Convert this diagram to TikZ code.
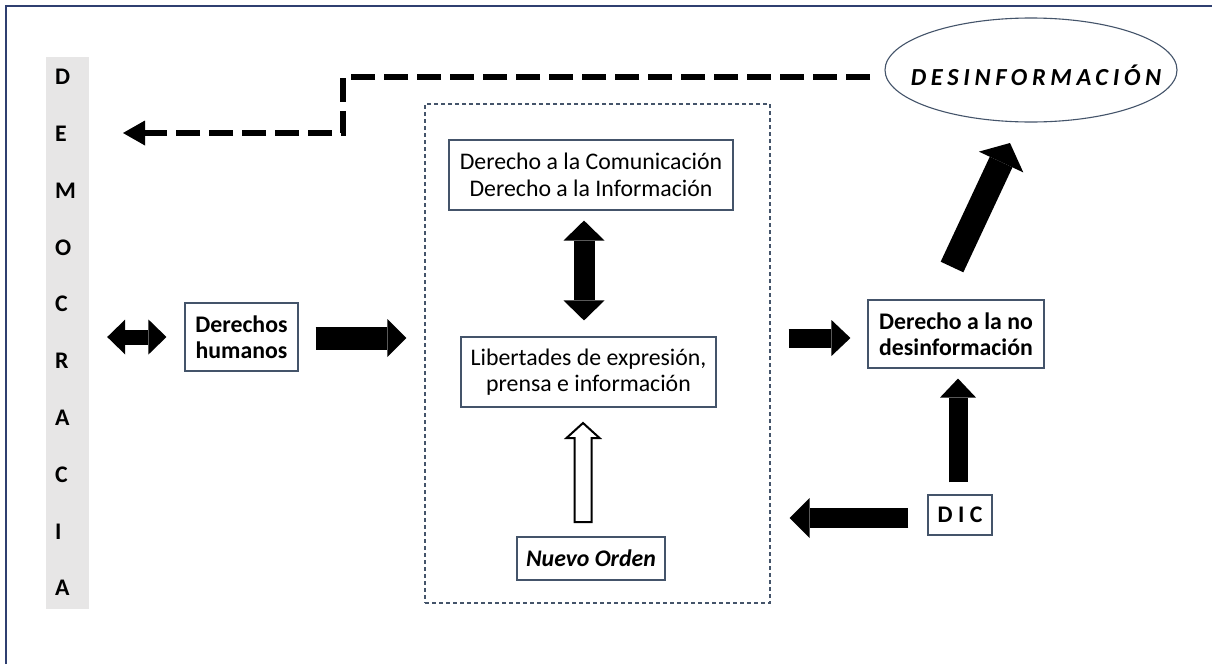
\documentclass[tikz,border=0pt]{standalone}
\usepackage{fontspec}
\setmainfont{Carlito}
\usetikzlibrary{arrows.meta,shapes.geometric,calc}
\definecolor{bord}{HTML}{44546A}
\definecolor{framec}{HTML}{2F3F70}
\definecolor{stripc}{HTML}{E7E6E6}
\newcommand\fsz{\fontsize{23.8}{26.5}\selectfont}
\tikzset{
  box/.style={draw=bord, line width=1.1pt, align=center, inner sep=0pt, font=\fsz},
  blkarrow/.style n args={3}{draw=black, line width=#1, -{Triangle[width=#2,length=#3,line width=0pt]}},
  dblarrow/.style n args={3}{draw=black, line width=#1, {Triangle[width=#2,length=#3,line width=0pt]}-{Triangle[width=#2,length=#3,line width=0pt]}},
}
\begin{document}
\begin{tikzpicture}[x=1pt,y=-1pt]
\useasboundingbox (0,0) rectangle (1212,664);
\fill[white] (0,0) rectangle (1212,664);
\draw[framec, line width=2pt] (6,664) -- (6,6) -- (1212,6);

% DEMOCRACIA strip
\node[fill=stripc, minimum width=43pt, minimum height=552pt, inner sep=0pt] (strip) at (67.5,333) {};
\foreach \l [count=\i from 0] in {D,E,M,O,C,R,A,C,I,A}
  \node[anchor=west, inner sep=0pt, font=\fsz\bfseries] (dl\i) at (55,{77+56.8*\i}) {\l};

% container
\node[draw=bord, line width=1.1pt, dash pattern=on 4pt off 3pt, minimum width=345pt, minimum height=499pt, inner sep=0pt] (cont) at (597.5,353.5) {};

% boxes
\node[box, minimum width=113pt, minimum height=68pt, font=\fsz\bfseries] (dh) at (241.5,337) {Derechos\\humanos};
\node[box, minimum width=284pt, minimum height=70pt] (dc) at (591,175) {Derecho a la Comunicación\\Derecho a la Información};
\node[box, minimum width=255pt, minimum height=70pt] (lib) at (588.5,372) {Libertades de expresión,\\prensa e información};
\node[box, minimum width=148pt, minimum height=43pt, font=\fsz\bfseries\itshape] (nuevo) at (591,558.5) {Nuevo Orden};
\node[box, minimum width=176pt, minimum height=68pt, font=\fsz\bfseries] (dnd) at (956,334) {Derecho a la no\\desinformación};
\node[box, minimum width=64pt, minimum height=40pt, font=\fsz\bfseries] (dic) at (960,515) {D I C};
\node[ellipse, draw=bord, line width=1.1pt, minimum width=292pt, minimum height=104pt, inner sep=0pt,
      label={[font=\fontsize{24.5}{27}\selectfont\bfseries\itshape, yshift=-5pt, xshift=5pt]center:\addfontfeature{LetterSpace=19}DESINFORMACIÓN}] (ell) at (1031,70) {};

% coordinates for arrows
\coordinate (vx) at (584,0);
\coordinate (ry) at (0,338);
\coordinate (ly) at (0,518);
\coordinate (ux) at (958,0);
\coordinate (dg1) at (952,267);
\coordinate (dg2) at (1010,143);
\coordinate (da1) at (870,77);
\coordinate (da2) at (343,77);
\coordinate (da3) at (343,133);
\coordinate (da4) at (123,133);

% arrows
\draw[dblarrow={15pt}{35pt}{18pt}, shorten <=18pt, shorten >=18pt] (strip.east |- dh.west) -- (dh.west);
\draw[blkarrow={23pt}{38pt}{19pt}, shorten <=17pt, shorten >=18pt] (dh.east |- ry) -- (cont.west |- ry);
\draw[dblarrow={21pt}{41pt}{20pt}, shorten <=10pt, shorten >=16pt] (dc.south -| vx) -- (lib.north -| vx);
\draw[blkarrow={19pt}{36pt}{19pt}, shorten <=18pt, shorten >=17pt] (cont.east |- ry) -- (dnd.west |- ry);
\draw[blkarrow={19pt}{36pt}{19pt}, shorten <=12pt, shorten >=10pt] (dic.north -| ux) -- (dnd.south -| ux);
\draw[blkarrow={20pt}{40pt}{20pt}, shorten <=19pt, shorten >=19pt] (dic.west |- ly) -- (cont.east |- ly);
\draw[blkarrow={25pt}{49pt}{21pt}] (dg1) -- (dg2);

% hollow arrow
\coordinate (hb) at (583,522);
\coordinate (ht) at (583,423);
\draw[black, line width=2pt, fill=white, line join=miter]
  ($(hb)+(-8.5,0)$) -- ($(hb)+(8.5,0)$) -- ($(ht)+(8.5,15)$) -- ($(ht)+(16.5,15)$) -- (ht)
  -- ($(ht)+(-16.5,15)$) -- ($(ht)+(-8.5,15)$) -- cycle;

% dashed arrow
\draw[black, line width=6pt, dash pattern=on 24pt off 9pt, -{Triangle[width=25pt,length=22pt,line width=0pt]}]
  (da1) -- (da2) -- (da3) -- (da4);
\end{tikzpicture}
\end{document}
